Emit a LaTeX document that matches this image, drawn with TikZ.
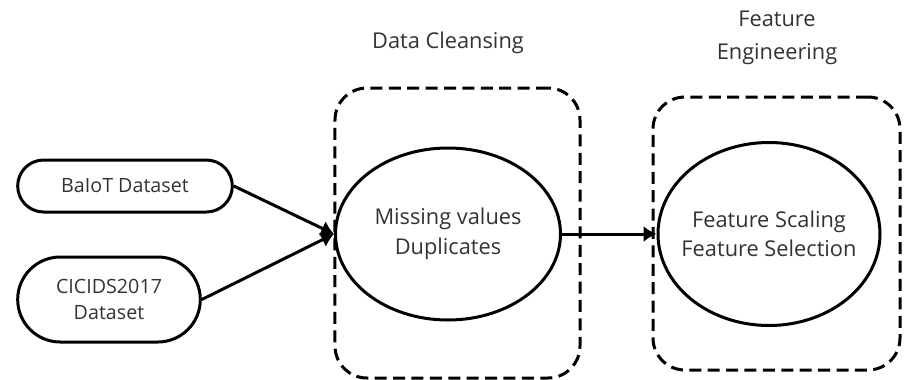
\documentclass[tikz,border=0pt]{standalone}
\usepackage{fontspec}
\setmainfont{Open Sans}
\usetikzlibrary{shapes.geometric,shapes.misc,arrows.meta}

\begin{document}
\begin{tikzpicture}[x=0.25mm, y=-0.25mm, font=\fontsize{14}{19}\selectfont, line width=0.75mm,
  source/.style={draw, rounded rectangle, align=center, text=black!80},
  step box/.style={draw, ellipse, inner sep=0pt},
  step text/.style={align=center, text=black!80, font=\fontsize{15.5}{21}\selectfont},
  title/.style={align=center, text=black!80, font=\fontsize{15.5}{23.5}\selectfont},
  stage/.style={draw, dash pattern=on 3mm off 1.6mm, rounded corners=8mm, rectangle},
  flow/.style={-{Latex[length=3.2mm,width=4mm]}}]
\useasboundingbox (0,0) rectangle (904,379);

% stages
\node[stage, minimum width=61.25mm, minimum height=72.5mm] (stageA) at (457.5,233) {};
\node[stage, minimum width=61.75mm, minimum height=68.25mm] (stageB) at (776.5,233.5) {};
\node[title] (titleA) at (448,43) {Data Cleansing};
\node[title] (titleB) at (777,38) {Feature\\Engineering};

% datasets
\node[source, minimum width=56mm, minimum height=13mm] (baiot) at (125,186) {BaIoT Dataset};
\node[source, minimum width=48mm, minimum height=21.25mm] (cicids) at (109,299.5) {CICIDS2017\\Dataset};

% steps
\node[step box, minimum width=56.25mm, minimum height=43mm,
  label={[step text]center:Missing values\\Duplicates}] (clean) at (448,234) {};
\node[step box, minimum width=55.5mm, minimum height=45.75mm,
  label={[step text]center:Feature Scaling\\Feature Selection}] (feat) at (769,234) {};

\draw[flow] (baiot.east) -- (clean.west);
\draw[flow] (cicids.east) -- (clean.west);
\draw[flow] (clean.east) -- (feat.west);
\end{tikzpicture}
\end{document}
